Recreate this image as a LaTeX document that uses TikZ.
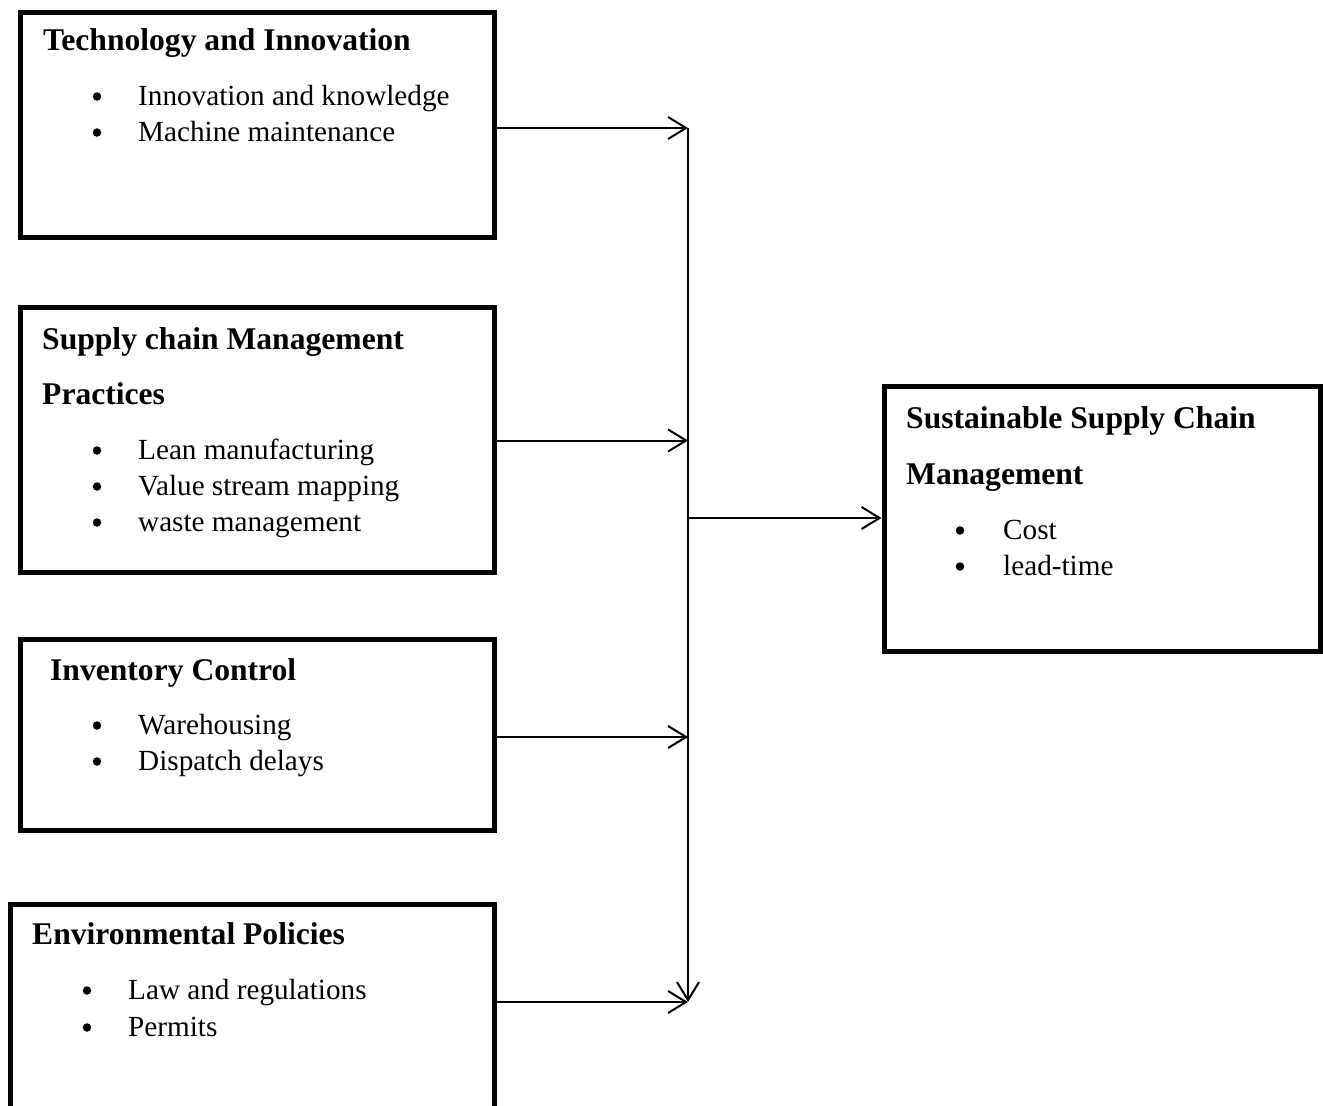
\documentclass[tikz,border=0pt]{standalone}
\usepackage{fontspec}
\setmainfont{Liberation Serif}
\usetikzlibrary{arrows.meta}
\begin{document}
\begin{tikzpicture}[x=1pt,y=-1pt,
  boxst/.style={draw, line width=5pt, anchor=north west, inner sep=0pt, outer sep=0pt},
  head/.style={anchor=base west, inner sep=0pt, font=\fontsize{31.6}{38}\selectfont\bfseries},
  item/.style={anchor=base west, inner sep=0pt, font=\fontsize{29.2}{36}\selectfont},
  dot/.style={circle, fill, inner sep=0pt, minimum size=8.5pt, yshift=8.5pt},
  conn/.style={line width=2pt, -{Straight Barb[length=18pt,width=22pt,line width=2pt]}}
]
\useasboundingbox (0,0) rectangle (1323,1106);
\clip (0,0) rectangle (1323,1106);

% boxes
\node[boxst, minimum width=474.5pt, minimum height=224.5pt] (b1) at (20,12.5) {};
\node[boxst, minimum width=474.5pt, minimum height=265pt] (b2) at (20,307.5) {};
\node[boxst, minimum width=474.5pt, minimum height=191.5pt] (b3) at (20,639) {};
\node[boxst, minimum width=484.5pt, minimum height=250pt] (b4) at (10,904) {};
\node[boxst, minimum width=436pt, minimum height=265pt] (ssc) at (884,386.5) {};

% box 1
\node[head] (t1) at (43,50) {Technology and Innovation};
\node[dot] (d11) at (97,105) {};
\node[item] (i11) at (138,105) {Innovation and knowledge};
\node[dot] (d12) at (97,141) {};
\node[item] (i12) at (138,141) {Machine maintenance};

% box 2
\node[head] (t2a) at (42,349) {Supply chain Management};
\node[head] (t2b) at (42,404) {Practices};
\node[dot] (d21) at (97,459) {};
\node[item] (i21) at (138,459) {Lean manufacturing};
\node[dot] (d22) at (97,495) {};
\node[item] (i22) at (138,495) {Value stream mapping};
\node[dot] (d23) at (97,531) {};
\node[item] (i23) at (138,531) {waste management};

% box 3
\node[head] (t3) at (50,680) {Inventory Control};
\node[dot] (d31) at (97,734) {};
\node[item] (i31) at (138,734) {Warehousing};
\node[dot] (d32) at (97,770) {};
\node[item] (i32) at (138,770) {Dispatch delays};

% box 4
\node[head] (t4) at (32,944) {Environmental Policies};
\node[dot] (d41) at (87,999) {};
\node[item] (i41) at (128,999) {Law and regulations};
\node[dot] (d42) at (87,1036) {};
\node[item] (i42) at (128,1036) {Permits};

% outcome box
\node[head] (t5a) at (906,428) {Sustainable Supply Chain};
\node[head] (t5b) at (906,484) {Management};
\node[dot] (d51) at (960,539) {};
\node[item] (i51) at (1003,539) {Cost};
\node[dot] (d52) at (960,575) {};
\node[item] (i52) at (1003,575) {lead-time};

% junctions
\coordinate (j1) at (688,128);
\coordinate (j2) at (688,440.5);
\coordinate (j3) at (688,737);
\coordinate (j4) at (688,1002);
\coordinate (jm) at (688,518);

% connectors
\draw[conn] (b1.east |- j1) -- (j1);
\draw[conn] (b2.east |- j2) -- (j2);
\draw[conn] (b3.east |- j3) -- (j3);
\draw[conn] (b4.east |- j4) -- (j4);
\draw[conn] (j1) -- (j4);
\draw[conn, shorten >=2.5pt] (jm) -- (jm -| ssc.west);
\end{tikzpicture}
\end{document}
